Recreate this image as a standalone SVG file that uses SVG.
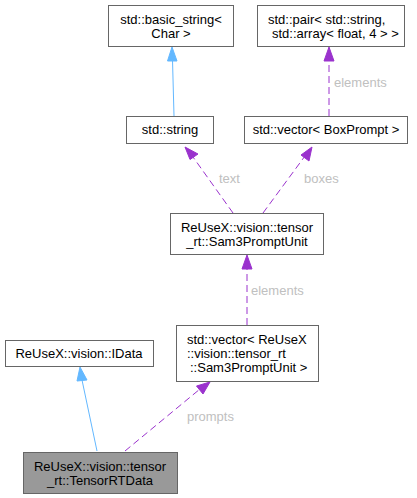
<svg xmlns="http://www.w3.org/2000/svg" width="417" height="498" viewBox="0 0 417 498">
<style>
text{font-family:"Liberation Sans",Arial,sans-serif;font-size:13px;fill:#000}
.n{fill:#fff;stroke:#666;stroke-width:1}
.cur{fill:#999;stroke:#666;stroke-width:1}
.c{text-anchor:middle}
.lbl{fill:#c0c0c0}
.inh{stroke:#63b8ff;stroke-width:1;fill:none}
.use{stroke:#9a32cd;stroke-width:1;fill:none;stroke-dasharray:7,4}
.ah-b{fill:#63b8ff;stroke:#63b8ff}
.ah-p{fill:#9a32cd;stroke:#9a32cd}
</style>
<rect width="417" height="498" fill="#fff"/>
<g id="edges">
  <line class="inh" x1="174" y1="116" x2="172.5" y2="60"/>
  <polygon class="ah-b" points="172,47 177,61 167.5,61"/>
  <line class="use" x1="329" y1="116" x2="329" y2="60"/>
  <polygon class="ah-p" points="329,47 334,61 324,61"/>
  <text class="lbl" x="334" y="87">elements</text>
  <line class="use" x1="233" y1="213" x2="193" y2="157"/>
  <polygon class="ah-p" points="185,147 198,154 190,159.5"/>
  <text class="lbl" x="219" y="183">text</text>
  <line class="use" x1="263" y1="213" x2="305" y2="156"/>
  <polygon class="ah-p" points="312,147 309,161 301,155"/>
  <text class="lbl" x="304" y="183">boxes</text>
  <line class="use" x1="247" y1="325" x2="247" y2="268"/>
  <polygon class="ah-p" points="247,255 252,269 242,269"/>
  <text class="lbl" x="251" y="295">elements</text>
  <line class="inh" x1="97" y1="451" x2="82" y2="380"/>
  <polygon class="ah-b" points="80,367 87,380 77,381"/>
  <line class="use" x1="125" y1="451" x2="200" y2="389"/>
  <polygon class="ah-p" points="210,382 203,394 196.5,386"/>
  <text class="lbl" x="187" y="421">prompts</text>
</g>
<g id="basic_string">
  <rect class="n" x="108.5" y="5.5" width="125" height="41"/>
  <text class="c" x="171" y="24">std::basic_string&lt;</text>
  <text class="c" x="171" y="38">Char &gt;</text>
</g>
<g id="pair">
  <rect class="n" x="257.5" y="5.5" width="147" height="41"/>
  <text x="268" y="24">std::pair&lt; std::string,</text>
  <text x="272" y="38">std::array&lt; float, 4 &gt; &gt;</text>
</g>
<g id="string">
  <rect class="n" x="126.5" y="116.5" width="87" height="27"/>
  <text class="c" x="170" y="134">std::string</text>
</g>
<g id="vector_boxprompt">
  <rect class="n" x="244.5" y="116.5" width="163" height="27"/>
  <text class="c" x="326" y="134">std::vector&lt; BoxPrompt &gt;</text>
</g>
<g id="sam3promptunit">
  <rect class="n" x="170.5" y="213.5" width="153" height="41"/>
  <text class="c" x="247" y="232">ReUseX::vision::tensor</text>
  <text class="c" x="247" y="246">_rt::Sam3PromptUnit</text>
</g>
<g id="vector_sam3">
  <rect class="n" x="176.5" y="325.5" width="142" height="56"/>
  <text x="187" y="344">std::vector&lt; ReUseX</text>
  <text x="187" y="358">::vision::tensor_rt</text>
  <text x="190" y="372">::Sam3PromptUnit &gt;</text>
</g>
<g id="idata">
  <rect class="n" x="5.5" y="340.5" width="148" height="26"/>
  <text class="c" x="79" y="358">ReUseX::vision::IData</text>
</g>
<g id="tensorrtdata">
  <rect class="cur" x="23.5" y="452.5" width="154" height="41"/>
  <text class="c" x="100" y="471">ReUseX::vision::tensor</text>
  <text class="c" x="100" y="485">_rt::TensorRTData</text>
</g>
</svg>
